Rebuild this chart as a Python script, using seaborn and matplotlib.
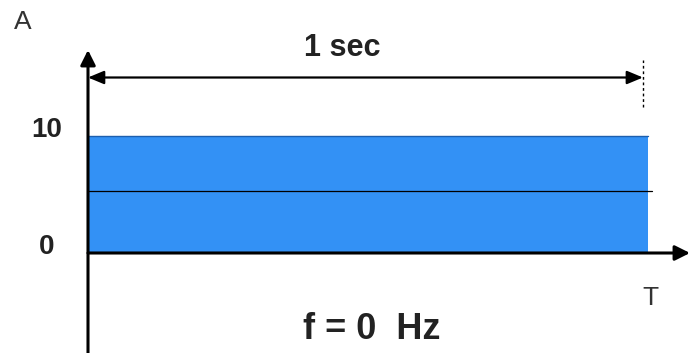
import matplotlib

matplotlib.use("Agg")
import matplotlib.pyplot as plt
import seaborn as sns

# Señal continua (DC): amplitud constante durante 1 segundo
tiempo = [0.0, 1.0]
amplitud = [10, 10]
tiempo_medio = [0.0, 1.007]
nivel_medio = [5.3, 5.3]
ticks_y = [0, 10]
etiquetas_y = ["0", "10"]
duracion = 1
frecuencia = 0

sns.set_style("white")
plt.rcParams["font.family"] = ["Liberation Sans", "DejaVu Sans"]

fig = plt.figure(figsize=(6.9, 3.53), dpi=100)
ax = fig.add_axes([0, 0, 1, 1])

# escala: 560 px por segundo, 11.7 px por unidad de amplitud
ax.set_xlim(-88 / 560, 602 / 560)
ax.set_ylim(-100 / 11.7, 253 / 11.7)
ax.axis("off")

# bloque de la señal
ax.fill_between(tiempo, 0, amplitud, color="#3391f5", lw=0, zorder=1)
ax.plot(tiempo, amplitud, color="#1d5fae", lw=1.0, zorder=2)

# nivel medio
sns.lineplot(x=tiempo_medio, y=nivel_medio, color="black", lw=0.9, ax=ax, zorder=3)

y0, y1 = ax.get_ylim()
x0, x1 = ax.get_xlim()
flecha = dict(
    arrowstyle="-|>,head_length=0.5,head_width=0.25",
    lw=2.2,
    color="black",
    mutation_scale=18,
    shrinkA=0,
    shrinkB=0,
)

# ejes con flecha
ax.annotate("", xy=(0, 17.35), xytext=(0, y0), arrowprops=flecha, zorder=4)
ax.annotate("", xy=(x1, 0), xytext=(0, 0), arrowprops=flecha, zorder=4)

# cota de duración
ax.annotate(
    "",
    xy=(0.991 * duracion, 15.0),
    xytext=(0, 15.0),
    arrowprops=dict(
        arrowstyle="<|-|>,head_length=0.6,head_width=0.25",
        lw=1.6,
        color="black",
        mutation_scale=16,
        shrinkA=0,
        shrinkB=0,
    ),
    zorder=4,
)
ax.plot(
    [0.991 * duracion] * 2, [12.5, 16.5], color="black", lw=1.0, ls=(0, (2, 2))
)

# textos
texto = "#222222"
for t, lab in zip(ticks_y, etiquetas_y):
    ax.text(
        -0.073, t + 0.5, lab, ha="center", va="center", fontsize=20,
        weight="bold", color=texto,
    )

ax.text(-0.116, 19.74, "A", ha="center", va="center", fontsize=19, color="#333333")
ax.text(1.005, -3.85, "T", ha="center", va="center", fontsize=19, color="#333333")
ax.text(
    0.454, 17.52, f"{duracion} sec", ha="center", va="center", fontsize=22,
    weight="bold", color=texto,
)
ax.text(
    0.507, -6.58, f"f = {frecuencia}  Hz", ha="center", va="center", fontsize=26,
    weight="bold", color=texto,
)

fig.savefig("out.png", dpi=100)
